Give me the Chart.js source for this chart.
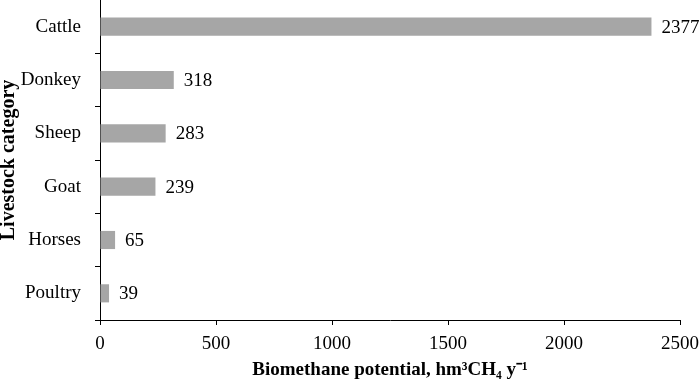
<!DOCTYPE html>
<html>
<head>
<meta charset="utf-8">
<script src="https://cdn.jsdelivr.net/npm/chart.js@4"></script>
<style>
html,body{margin:0;padding:0;background:#fff;}
#wrap{width:699px;height:381px;position:relative;}
</style>
</head>
<body>
<div id="wrap"><canvas id="c" width="699" height="381"></canvas></div>
<script>
const categories = ["Cattle", "Donkey", "Sheep", "Goat", "Horses", "Poultry"];
const values = [2377, 318, 283, 239, 65, 39];
const xTicks = [0, 500, 1000, 1500, 2000, 2500];
const xTitle = "Biomethane potential, hm\u00B3CH\u2084 y\u207B\u00B9";
const yTitle = "Livestock category";

const FONT = "'Liberation Serif', 'Times New Roman', serif";

const valueLabels = {
  id: 'valueLabels',
  afterDatasetsDraw(chart) {
    const ctx = chart.ctx;
    const meta = chart.getDatasetMeta(0);
    ctx.save();
    ctx.font = "19px " + FONT;
    ctx.fillStyle = "#000";
    ctx.textAlign = "left";
    ctx.textBaseline = "middle";
    meta.data.forEach((bar, i) => {
      ctx.fillText(String(values[i]), bar.x + 10, bar.y + 1);
    });
    ctx.restore();
  }
};

new Chart(document.getElementById('c'), {
  type: 'bar',
  data: {
    labels: categories,
    datasets: [{
      data: values,
      backgroundColor: '#a6a6a6',
      borderWidth: 0,
      barPercentage: 0.34,
      categoryPercentage: 1.0
    }]
  },
  options: {
    indexAxis: 'y',
    responsive: false,
    animation: false,
    devicePixelRatio: 1,
    layout: { padding: { left: 0, right: 19, top: 0, bottom: 0 } },
    plugins: { legend: { display: false }, tooltip: { enabled: false } },
    scales: {
      x: {
        min: 0, max: 2500,
        afterBuildTicks(scale) { scale.ticks = xTicks.map(v => ({ value: v })); },
        afterFit(scale) { scale.height = 61; scale.paddingLeft = 0; scale.paddingRight = 0; },
        border: { display: true, color: '#000', width: 1 },
        grid: { display: true, drawOnChartArea: false, drawTicks: true, tickLength: 5, color: '#000', tickColor: '#000' },
        ticks: { color: '#000', font: { family: FONT, size: 19 }, padding: 8, maxRotation: 0, callback: (v) => String(v) },
        title: { display: true, text: xTitle, color: '#000', font: { family: FONT, size: 19, weight: 'bold' }, padding: { top: 2, bottom: 0 } }
      },
      y: {
        afterFit(scale) { scale.width = 100; scale.paddingTop = 0; scale.paddingBottom = 0; },
        border: { display: true, color: '#000', width: 1 },
        grid: { display: true, offset: true, drawOnChartArea: false, drawTicks: true, tickLength: 5, color: '#000', tickColor: '#000' },
        ticks: { color: '#000', font: { family: FONT, size: 19 }, padding: 14 },
        title: { display: true, text: yTitle, color: '#000', font: { family: FONT, size: 20, weight: 'bold' }, padding: { top: -3, bottom: 0 } }
      }
    }
  },
  plugins: [valueLabels]
});
</script>
</body>
</html>
